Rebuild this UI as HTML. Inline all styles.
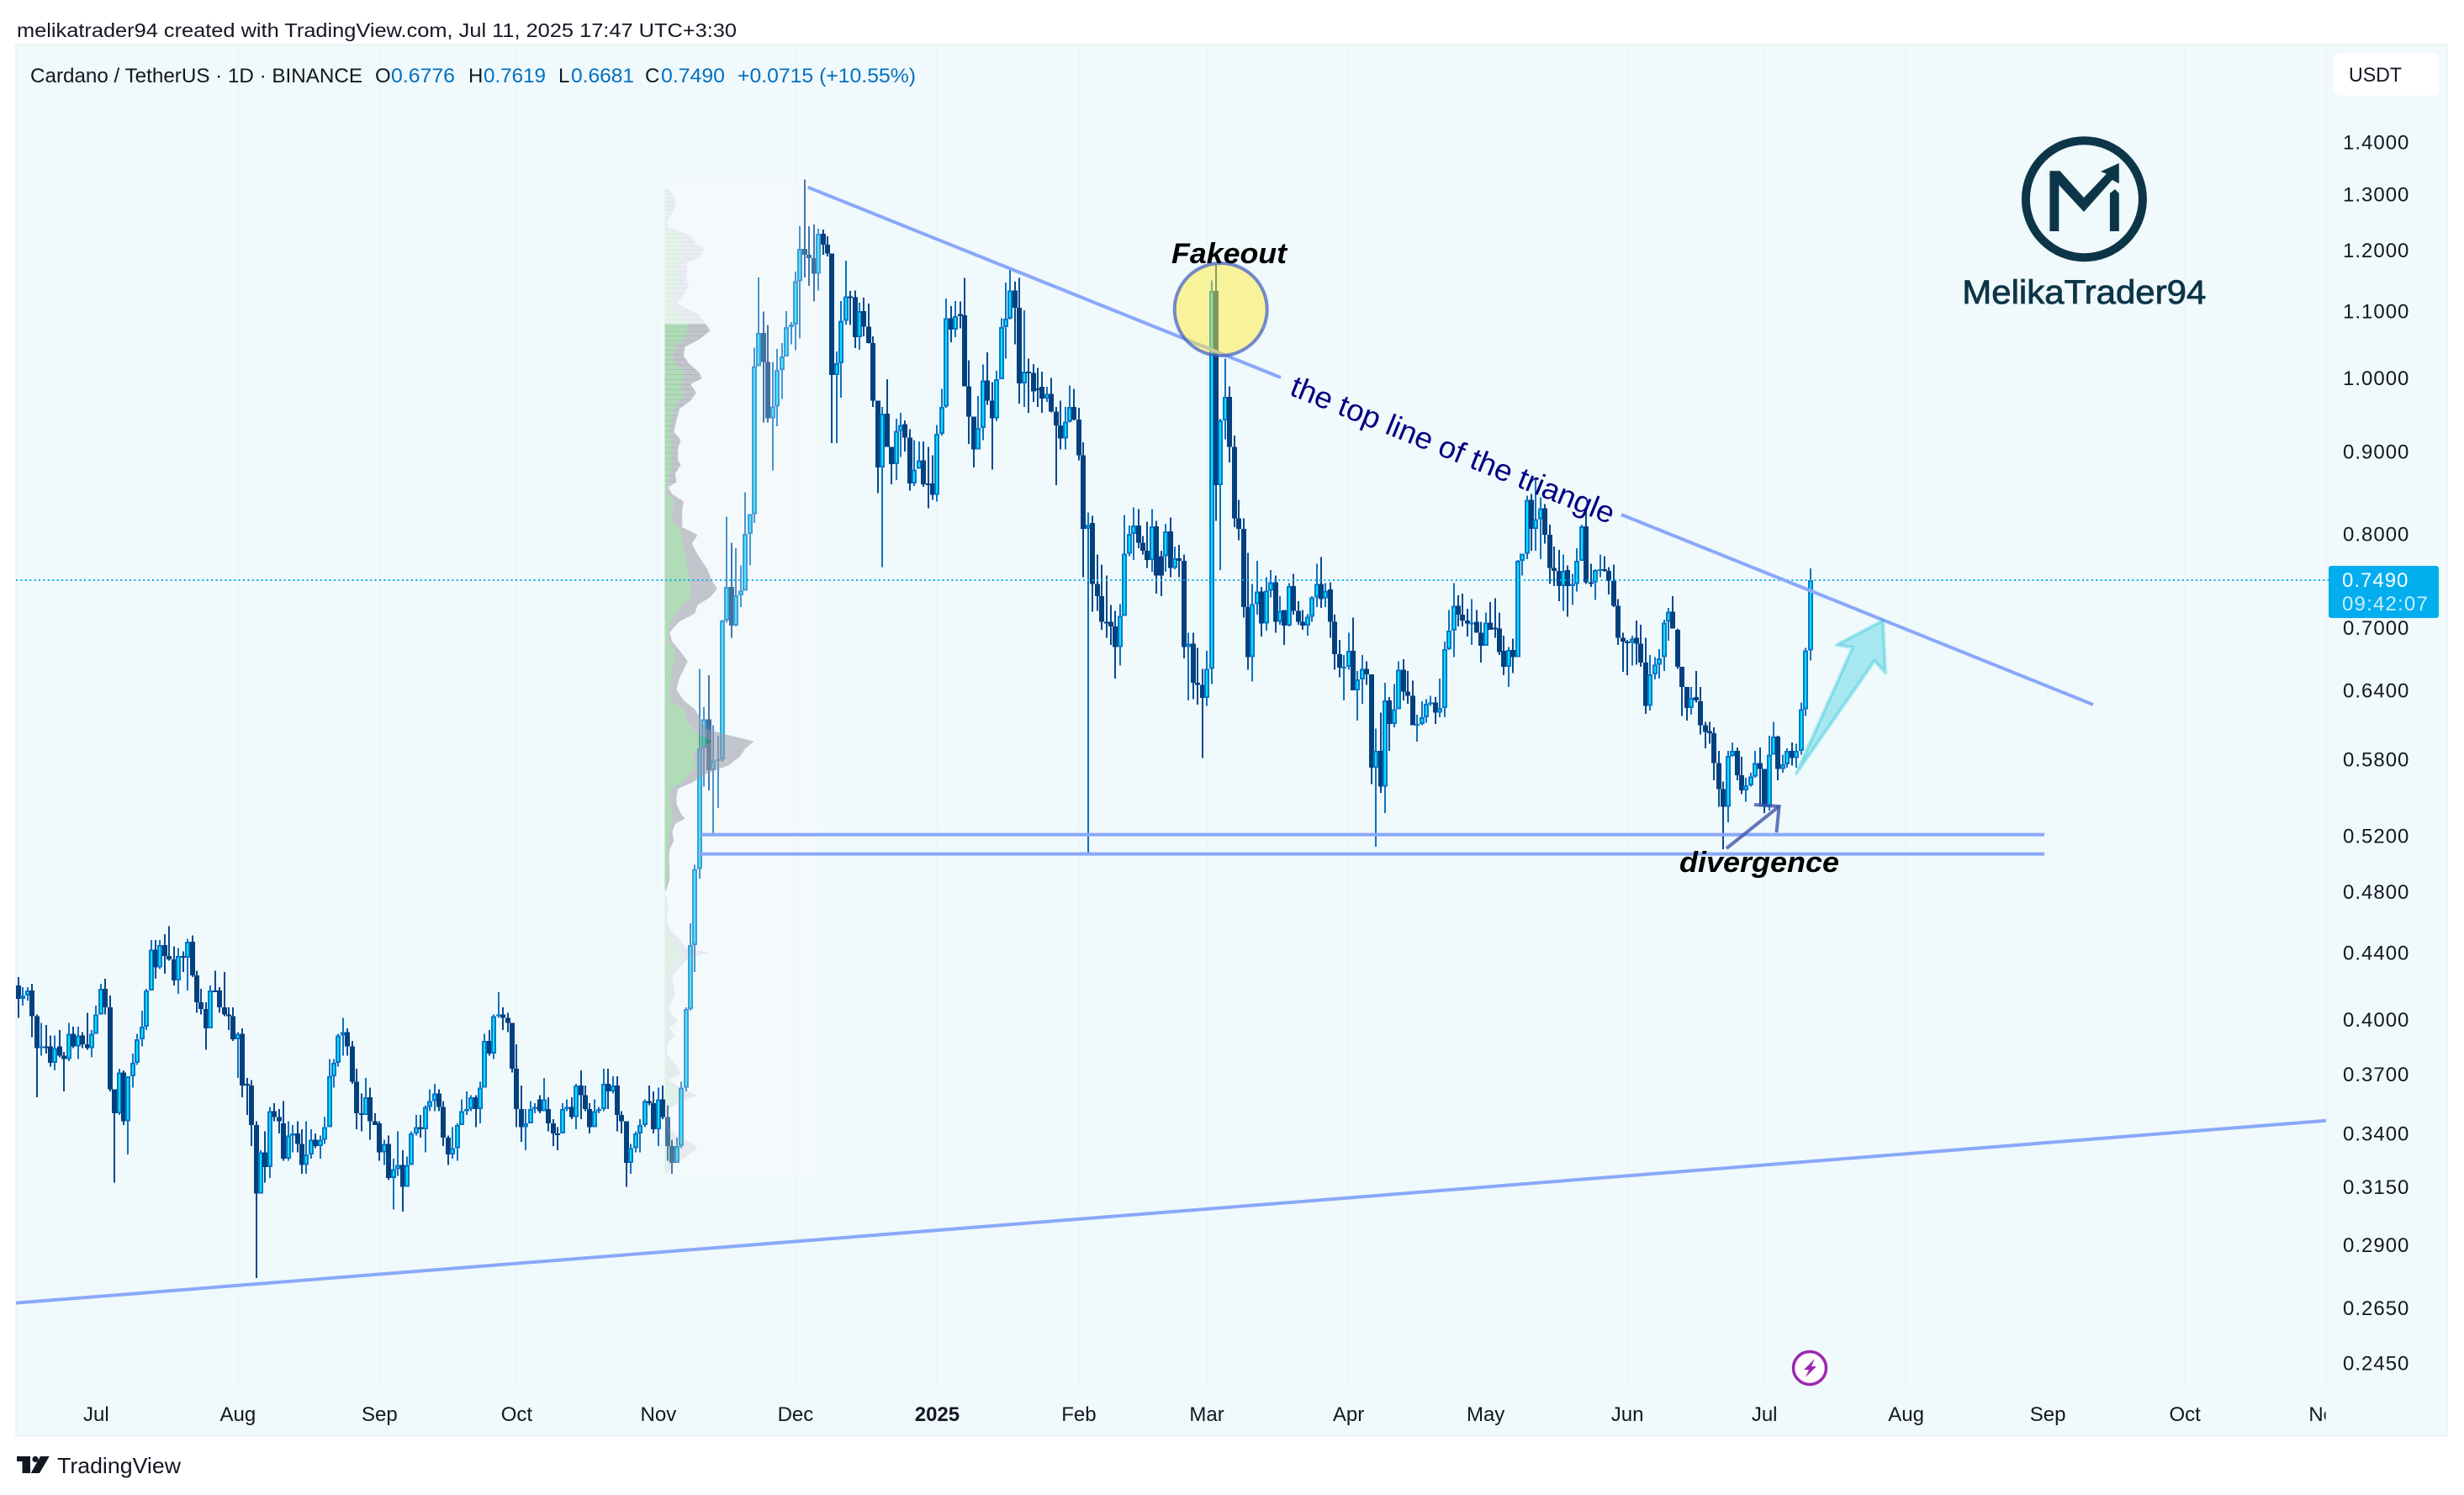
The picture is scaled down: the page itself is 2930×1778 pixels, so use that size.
<!DOCTYPE html>
<html lang="en">
<head>
<meta charset="utf-8">
<title>Cardano / TetherUS chart</title>
<style>
html,body{margin:0;padding:0;background:#fff;}
svg{display:block;font-family:"Liberation Sans",sans-serif;}
</style>
</head>
<body>
<svg id="chart" width="2930" height="1778" viewBox="0 0 2930 1778" xmlns="http://www.w3.org/2000/svg">
<defs>
  <clipPath id="paneClip"><rect x="19" y="53" width="2747" height="1655"/></clipPath>
  <clipPath id="timeClip"><rect x="19" y="1652" width="2746.5" height="56"/></clipPath>
</defs>
<rect x="0" y="0" width="2930" height="1778" fill="#ffffff"/>
<text x="20" y="44" font-size="23" fill="#131722" textLength="856" lengthAdjust="spacingAndGlyphs">melikatrader94 created with TradingView.com, Jul 11, 2025 17:47 UTC+3:30</text>
<rect x="19" y="53" width="2891" height="1654.5" fill="#f0f9fb" stroke="#eff1f3" stroke-width="2"/>
<g id="gridLayer"></g>
<g id="candleLayer" clip-path="url(#paneClip)"></g>
<rect x="791" y="213" width="185" height="1185" fill="#ffffff" fill-opacity="0.25"/>
<g id="profileLayer"></g>
<g id="priceLineLayer"></g>

<g clip-path="url(#paneClip)">
  <line x1="960.7" y1="222.7" x2="1523" y2="449" stroke="#89a8fb" stroke-width="4"/>
  <line x1="1928" y1="612" x2="2489" y2="838" stroke="#89a8fb" stroke-width="4"/>
  <line x1="834" y1="992.6" x2="2431" y2="992.6" stroke="#89a8fb" stroke-width="4"/>
  <line x1="830" y1="1015.6" x2="2431" y2="1015.6" stroke="#89a8fb" stroke-width="4"/>
  <line x1="19" y1="1549.6" x2="2766" y2="1332.8" stroke="#89a8fb" stroke-width="4"/>
  <circle cx="1451.7" cy="368" r="55" fill="#ffeb3b" fill-opacity="0.5" stroke="#3a5ac8" stroke-opacity="0.7" stroke-width="4"/>
  <polygon points="2136,920 2203,770 2184,767 2239,738 2242,800 2229,786" fill="#00bcd4" fill-opacity="0.3" stroke="#00bcd4" stroke-opacity="0.3" stroke-width="4" stroke-linejoin="round"/>
  <polyline points="2053,1009 2115.6,959" fill="none" stroke="#3f56a8" stroke-opacity="0.8" stroke-width="4"/>
  <polyline points="2086,957 2115.6,959 2112.5,990" fill="none" stroke="#3f56a8" stroke-opacity="0.8" stroke-width="4"/>
</g>

<text x="1393" y="313" font-size="34" font-weight="700" font-style="italic" fill="#000000" textLength="137" lengthAdjust="spacingAndGlyphs">Fakeout</text>
<text x="1997" y="1037" font-size="34" font-weight="700" font-style="italic" fill="#000000" textLength="190" lengthAdjust="spacingAndGlyphs">divergence</text>
<text transform="translate(1532 469) rotate(22)" font-size="36" fill="#000080" textLength="412" lengthAdjust="spacingAndGlyphs">the top line of the triangle</text>

<g>
  <circle cx="2478.4" cy="236.7" r="69.5" fill="none" stroke="#0d3548" stroke-width="10"/>
  <polygon fill="#0d3548" points="2437.4,275 2437.4,203.3 2449.5,203.3 2478,235 2504.9,206.7 2498,204 2519.8,194 2519.8,218.3 2511.7,214 2478,252 2448.3,220 2448.3,275"/>
  <polygon fill="#0d3548" points="2508.9,275 2508.9,230 2515,225 2519.8,230 2519.8,275"/>
  <text x="2333.3" y="361" font-size="40" fill="#0d3548" stroke="#0d3548" stroke-width="0.8" textLength="290" lengthAdjust="spacingAndGlyphs">MelikaTrader94</text>
</g>

<g font-size="24">
  <text x="36" y="98" fill="#131722" textLength="395" lengthAdjust="spacingAndGlyphs">Cardano / TetherUS · 1D · BINANCE</text>
  <text x="446" y="98" fill="#131722">O</text>
  <text x="465" y="98" fill="#0070c0" textLength="76" lengthAdjust="spacingAndGlyphs">0.6776</text>
  <text x="557" y="98" fill="#131722">H</text>
  <text x="575" y="98" fill="#0070c0" textLength="74" lengthAdjust="spacingAndGlyphs">0.7619</text>
  <text x="664" y="98" fill="#131722">L</text>
  <text x="679" y="98" fill="#0070c0" textLength="75" lengthAdjust="spacingAndGlyphs">0.6681</text>
  <text x="767" y="98" fill="#131722">C</text>
  <text x="786" y="98" fill="#0070c0" textLength="76" lengthAdjust="spacingAndGlyphs">0.7490</text>
  <text x="877" y="98" fill="#0070c0" textLength="212" lengthAdjust="spacingAndGlyphs">+0.0715 (+10.55%)</text>
</g>

<g>
  <rect x="2774" y="62" width="127" height="52" rx="7" fill="#ffffff" stroke="#f3f5f7" stroke-width="1"/>
  <text x="2793" y="97" font-size="24" fill="#131722" textLength="63" lengthAdjust="spacingAndGlyphs">USDT</text>
</g>

<g id="priceAxis"></g>
<g id="timeAxis"></g>

<g>
  <rect x="2769" y="673" width="131" height="62" rx="3" fill="#03aeef"/>
  <text x="2785" y="698" font-size="24" letter-spacing="1" fill="#ffffff">0.7490</text>
  <text x="2785" y="726" font-size="24" letter-spacing="1.2" fill="#c9edfb">09:42:07</text>
</g>

<g>
  <circle cx="2152" cy="1627" r="19.5" fill="#ffffff" stroke="#9c27b0" stroke-width="3.5"/>
  <polygon points="2158,1616 2145,1629 2151,1629 2147,1638 2160,1625 2154,1625" fill="#9c27b0"/>
</g>

<g>
  <polygon points="20,1732 36,1732 36,1752 26.5,1752 26.5,1738 20,1738" fill="#131722"/>
  <circle cx="42" cy="1735.5" r="3.6" fill="#131722"/>
  <polygon points="48,1732 58.7,1732 47,1752 36.7,1752" fill="#131722"/>
  <text x="68" y="1752" font-size="26" fill="#131722" textLength="147" lengthAdjust="spacingAndGlyphs">TradingView</text>
</g>

<script>
const opens = [
.420,.412,.414,.417,.402,.385,.385,.385,.376,.385,
.380,.378,.392,.385,.391,.386,.384,.392,.403,.418,
.407,.362,.350,.371,.346,.369,.376,.389,.396,.417,
.442,.431,.445,.438,.436,.423,.438,.437,.447,.426,
.410,.406,.395,.417,.417,.407,.403,.402,.389,.392,
.365,.364,.344,.312,.331,.324,.351,.348,.345,.328,
.339,.340,.335,.325,.330,.337,.334,.337,.343,.369,
.376,.391,.393,.385,.366,.350,.349,.358,.346,.345,
.331,.335,.319,.323,.325,.315,.325,.340,.343,.342,
.353,.356,.360,.353,.338,.330,.333,.344,.351,.352,
.358,.352,.363,.388,.381,.402,.403,.401,.398,.373,
.352,.343,.345,.352,.357,.351,.352,.345,.340,.340,
.352,.353,.348,.364,.359,.352,.343,.351,.352,.365,
.361,.364,.349,.346,.326,.333,.340,.344,.356,.355,
.342,.357,.348,.334,.326,.334,.363,.406,.445,.496,
.589,.614,.571,.579,.580,.707,.742,.702,.733,.738,
.800,.823,1.017,1.066,1.023,.944,.960,1.011,1.031,1.075,
1.079,1.148,1.202,1.192,1.186,1.160,1.228,1.209,1.194,1.004,
1.021,1.085,1.123,1.122,1.060,1.100,1.076,1.051,.968,.880,
.950,.906,.884,.927,.936,.918,.860,.878,.889,.860,
.860,.846,.923,.960,1.089,1.071,1.095,1.093,.988,.946,
.903,.931,.996,.968,.944,.998,1.075,1.088,1.133,1.105,
.992,1.009,1.007,.985,.987,.971,.977,.953,.934,.917,
.939,.959,.942,.895,.806,.813,.745,.732,.706,.706,
.701,.681,.712,.778,.800,.810,.790,.781,.771,.809,
.775,.775,.803,.762,.773,.770,.681,.684,.647,.645,
.633,.660,1.132,.858,.941,.973,.906,.818,.806,.721,
.671,.724,.737,.704,.738,.747,.706,.718,.702,.743,
.717,.706,.702,.711,.731,.745,.730,.739,.706,.674,
.661,.662,.677,.640,.650,.660,.655,.573,.587,.558,
.631,.610,.623,.659,.639,.635,.609,.610,.616,.628,
.629,.620,.624,.679,.697,.722,.713,.707,.704,.706,
.695,.682,.705,.700,.699,.677,.662,.678,.671,.770,
.778,.840,.806,.817,.830,.799,.762,.759,.743,.760,
.743,.745,.770,.809,.747,.747,.760,.761,.759,.748,
.722,.690,.686,.685,.690,.684,.666,.626,.655,.664,
.671,.706,.716,.698,.662,.643,.624,.634,.630,.609,
.604,.602,.577,.556,.542,.583,.587,.567,.555,.559,
.566,.577,.572,.542,.584,.599,.572,.576,.587,.581,
.587,.623,.6776];
const highs = [
.425,.419,.419,.421,.403,.398,.397,.391,.391,.394,
.382,.398,.396,.396,.393,.404,.394,.408,.421,.424,
.414,.362,.373,.372,.369,.381,.392,.405,.418,.448,
.448,.448,.452,.457,.444,.443,.441,.449,.451,.429,
.418,.410,.420,.429,.419,.428,.407,.407,.393,.395,
.368,.367,.346,.332,.341,.353,.355,.352,.356,.346,
.344,.346,.342,.346,.342,.340,.339,.348,.378,.378,
.392,.401,.395,.388,.373,.360,.368,.363,.350,.346,
.337,.339,.328,.341,.332,.329,.341,.349,.349,.354,
.362,.365,.362,.356,.339,.343,.345,.357,.361,.359,
.359,.366,.392,.394,.403,.416,.407,.404,.398,.386,
.364,.352,.356,.355,.359,.368,.358,.347,.343,.355,
.357,.358,.365,.372,.364,.355,.357,.353,.373,.373,
.369,.369,.351,.346,.335,.341,.347,.357,.364,.361,
.363,.364,.354,.337,.338,.366,.407,.459,.499,.660,
.625,.654,.609,.600,.708,.820,.790,.784,.765,.849,
.823,1.044,1.154,1.099,1.078,1.023,1.042,1.051,1.100,1.083,
1.164,1.242,1.327,1.242,1.245,1.237,1.236,1.224,1.194,1.038,
1.116,1.182,1.132,1.133,1.113,1.121,1.112,1.061,.968,.959,
.998,.906,.943,.951,.941,.929,.915,.913,.913,.906,
.895,.935,.984,1.120,1.108,1.116,1.115,1.153,1.025,.946,
.974,1.019,1.037,.994,1.010,1.089,1.146,1.167,1.147,1.153,
1.101,1.028,1.020,1.014,1.009,.987,1.000,.959,.968,.959,
.989,.984,.958,.912,.825,.821,.777,.766,.754,.723,
.717,.724,.822,.810,.831,.829,.798,.814,.829,.815,
.781,.812,.819,.786,.788,.777,.695,.695,.680,.660,
.677,1.149,1.175,.943,1.028,.988,.921,.840,.818,.779,
.745,.770,.742,.752,.760,.754,.732,.718,.746,.756,
.727,.718,.714,.732,.767,.774,.746,.747,.713,.688,
.673,.695,.710,.658,.673,.667,.655,.606,.620,.647,
.634,.646,.667,.669,.658,.649,.618,.630,.632,.635,
.634,.651,.686,.718,.746,.733,.735,.719,.729,.718,
.706,.715,.726,.730,.715,.692,.681,.689,.771,.778,
.845,.847,.865,.843,.835,.811,.786,.782,.777,.765,
.756,.784,.811,.827,.767,.761,.777,.775,.763,.766,
.729,.695,.688,.692,.707,.703,.690,.673,.671,.679,
.708,.720,.732,.699,.662,.643,.643,.658,.643,.612,
.612,.607,.587,.562,.587,.594,.590,.582,.565,.569,
.587,.590,.572,.600,.612,.600,.584,.589,.594,.593,
.629,.680,.7619];
const lows = [
.401,.408,.411,.390,.358,.380,.381,.374,.372,.379,
.361,.377,.384,.378,.384,.383,.379,.392,.403,.403,
.361,.317,.349,.344,.330,.363,.375,.385,.394,.417,
.424,.430,.427,.435,.420,.415,.428,.417,.425,.404,
.403,.383,.395,.417,.404,.402,.394,.388,.368,.358,
.349,.334,.2765,.312,.317,.319,.346,.340,.327,.327,
.331,.331,.321,.321,.328,.333,.328,.335,.343,.363,
.374,.380,.380,.365,.342,.341,.349,.337,.344,.327,
.325,.318,.305,.320,.304,.315,.325,.339,.338,.331,
.351,.351,.351,.334,.325,.328,.327,.344,.349,.351,
.343,.345,.363,.380,.378,.401,.394,.393,.371,.343,
.336,.332,.345,.350,.350,.351,.341,.334,.332,.340,
.351,.347,.342,.347,.351,.340,.343,.350,.351,.352,
.360,.341,.340,.315,.321,.331,.331,.343,.354,.340,
.334,.347,.327,.321,.326,.333,.361,.405,.428,.489,
.558,.555,.520,.541,.578,.705,.690,.701,.721,.738,
.765,.813,1.017,.938,.938,.876,.933,.970,1.032,1.049,
1.040,1.058,1.154,1.140,1.115,1.133,1.192,1.189,.911,.911,
.972,1.079,1.078,1.043,1.041,1.061,1.050,.959,.848,.763,
.906,.859,.864,.893,.900,.851,.857,.878,.856,.830,
.840,.838,.921,.958,1.052,1.060,1.073,.988,.910,.880,
.903,.915,.962,.877,.940,.998,1.028,1.087,1.049,.964,
.959,.951,.966,.959,.951,.966,.952,.858,.903,.903,
.938,.941,.889,.752,.507,.716,.717,.698,.690,.683,
.651,.663,.712,.775,.771,.784,.777,.762,.758,.735,
.732,.758,.752,.761,.752,.670,.631,.632,.627,.581,
.626,.646,.815,.760,.916,.886,.808,.793,.710,.659,
.648,.713,.691,.697,.731,.695,.703,.683,.701,.713,
.703,.698,.692,.706,.721,.720,.721,.690,.659,.652,
.631,.659,.640,.613,.628,.645,.560,.512,.553,.537,
.587,.607,.623,.631,.628,.609,.595,.609,.611,.626,
.610,.616,.616,.678,.671,.701,.701,.691,.683,.695,
.666,.682,.698,.690,.673,.654,.643,.656,.671,.754,
.772,.781,.781,.772,.789,.745,.743,.727,.717,.711,
.723,.737,.770,.745,.742,.728,.752,.758,.734,.721,
.683,.657,.654,.663,.664,.662,.619,.622,.650,.651,
.658,.687,.699,.660,.617,.613,.618,.629,.601,.589,
.593,.563,.542,.510,.530,.582,.563,.552,.546,.558,
.565,.542,.537,.539,.584,.563,.569,.573,.575,.573,
.584,.617,.6681];
const closes = [
.412,.414,.417,.402,.384,.385,.384,.376,.384,.380,
.378,.392,.385,.391,.386,.384,.392,.403,.418,.407,
.362,.350,.371,.346,.369,.376,.389,.396,.417,.442,
.431,.445,.438,.436,.423,.438,.437,.447,.426,.410,
.406,.395,.417,.416,.407,.403,.402,.389,.392,.364,
.364,.344,.312,.331,.324,.351,.348,.346,.328,.339,
.340,.335,.325,.330,.337,.334,.337,.343,.369,.376,
.391,.393,.385,.366,.350,.349,.358,.346,.344,.331,
.335,.319,.323,.325,.315,.325,.340,.343,.342,.353,
.356,.360,.353,.338,.330,.333,.344,.351,.352,.358,
.352,.363,.388,.381,.402,.403,.401,.398,.373,.352,
.343,.345,.352,.353,.351,.357,.345,.340,.3395,.352,
.353,.348,.364,.359,.352,.343,.351,.352,.365,.361,
.364,.349,.346,.326,.333,.340,.344,.356,.355,.342,
.357,.348,.334,.326,.334,.363,.406,.445,.496,.589,
.614,.571,.579,.580,.707,.742,.702,.733,.738,.800,
.823,1.017,1.066,1.023,.944,.960,1.011,1.031,1.075,1.079,
1.148,1.202,1.192,1.186,1.160,1.228,1.209,1.194,1.004,1.021,
1.085,1.123,1.122,1.060,1.100,1.076,1.051,.968,.880,.950,
.906,.884,.927,.935,.918,.860,.877,.889,.859,.859,
.846,.923,.959,1.089,1.071,1.092,1.092,.988,.946,.903,
.931,.996,.968,.944,.998,1.075,1.088,1.133,1.105,.992,
1.009,1.007,.981,.984,.971,.977,.953,.934,.917,.939,
.959,.942,.895,.806,.811,.745,.732,.706,.705,.701,
.681,.712,.778,.800,.810,.790,.781,.771,.809,.754,
.754,.803,.762,.773,.770,.681,.684,.647,.645,.633,
.660,1.132,.858,.941,.973,.906,.818,.806,.721,.671,
.724,.737,.704,.738,.747,.706,.717,.702,.743,.717,
.706,.702,.711,.731,.745,.729,.738,.706,.674,.661,
.662,.677,.640,.650,.660,.655,.573,.587,.558,.631,
.610,.623,.659,.639,.635,.609,.610,.616,.628,.629,
.620,.624,.679,.697,.722,.713,.707,.704,.705,.695,
.682,.705,.698,.699,.676,.662,.678,.671,.770,.778,
.840,.806,.817,.830,.799,.762,.759,.743,.759,.743,
.745,.770,.809,.747,.746,.760,.761,.759,.748,.722,
.690,.686,.685,.689,.684,.666,.626,.655,.664,.670,
.705,.716,.699,.662,.643,.624,.633,.631,.609,.603,
.602,.577,.556,.542,.583,.587,.567,.555,.559,.566,
.577,.572,.542,.584,.599,.572,.576,.587,.581,.587,
.623,.6776,.7490];

const priceTicks = [1.4,1.3,1.2,1.1,1.0,0.9,0.8,0.7,0.64,0.58,0.52,0.48,0.44,0.40,0.37,0.34,0.315,0.29,0.265,0.245];
const priceTickLabels = ["1.4000","1.3000","1.2000","1.1000","1.0000","0.9000","0.8000","0.7000","0.6400","0.5800","0.5200","0.4800","0.4400","0.4000","0.3700","0.3400","0.3150","0.2900","0.2650","0.2450"];
const timeTickBars = [17,48,79,109,140,170,201,232,260,291,321,352,382,413,444,474,505];
const timeTickLabels = ["Jul","Aug","Sep","Oct","Nov","Dec","2025","Feb","Mar","Apr","May","Jun","Jul","Aug","Sep","Oct","Nov"];
const lastPrice = 0.7490;

const vpPrices = [1.312,1.297,1.281,1.266,1.251,1.240,1.230,1.221,1.211,1.201,1.187,1.178,1.164,1.150,1.140,1.126,1.113,1.104,1.096,1.083,1.070,1.057,1.045,1.032,1.020,1.008,.999,.991,.979,.968,.956,.941,.926,.915,.904,.889,.883,.872,.862,.855,.847,.838,.828,.818,.808,.799,.789,.780,.770,.761,.749,.740,.731,.723,.714,.706,.695,.686,.678,.667,.659,.651,.641,.631,.623,.613,.606,.601,.595,.589,.582,.575,.568,.561,.556,.550,.544,.537,.533,.529,.523,.516,.510,.502,.494,.488,.482,.480,.471,.462,.460,.454,.449,.443,.440,.437,.431,.425,.414,.406,.399,.395,.391,.387,.381,.375,.370,.367,.363,.359,.356,.352,.343,.339,.335,.333,.330,.326,.321];
const vpTotal = [1,10.7,13,9,3,4,24,34,37,47,42,25.7,27,25.7,29,22.3,14,25.7,39,47,54,42,24,22.3,29,40.7,44,30.7,37.3,30.7,17.3,14,10.7,19,15.7,15.7,19,12.3,14,4,9,22.3,20.7,20.7,20.7,39,32.3,37.3,44,50.7,55.7,62.3,54,39,35.7,17.3,5.7,9,17.3,27.3,22.3,17.3,14,22.3,35.7,44,49,72.3,106,95.7,89,75.7,49,32.3,15.7,14,14,19,24,12.3,9,10.7,5.7,5,5.7,5.7,2.3,1,4,2.3,2.3,7.3,17.3,25.7,52.3,29,17.3,9,12.3,4,15,5.7,12.3,4,1.7,14,19,4,17.3,39,19,5.7,4,14,34,39,29,14,2.3];
const vpUp = [1,4,4,3.3,1.7,2.3,12.3,17.3,22.3,24,19,15.7,12.3,15.7,14,12.3,10.7,12.3,14,25.7,27.3,22.3,12.3,9,12.3,22.3,22.3,17.3,22.3,17.3,10.7,7.3,5.7,7.3,7.3,7.3,9,5.7,4,2.3,2.3,12.3,9,7.3,15.7,20.7,20.7,24,25.7,27.3,30.7,30.7,30.7,20.7,14,5.7,4,4,10.7,12.3,7.3,7.3,5.7,5.7,22.3,25.7,34,39,57.3,39,32.3,37.3,29,20.7,5.7,5.7,5.7,9,9,7.3,5.7,4,4,4,4,3,1.7,1,2.3,1.7,1.7,4,9,14,22.3,19,9,4,4,1.7,5.7,2.3,4,1.7,1,5.7,5.7,1.7,9,17.3,9,2.3,1,4,12.3,17.3,9,4,1];
const vpValueAreaHigh = 1.080;
const vpValueAreaLow = 0.481;

const SVG_NS = 'http://www.w3.org/2000/svg';
function priceY(p) { return 449.3 - 833 * Math.log(p); }
function barX(i) { return 22 + 5.435 * i; }
function vpX(v) { return 790.5 + v; }
function make(tag, attrs) {
  const el = document.createElementNS(SVG_NS, tag);
  for (const k in attrs) el.setAttribute(k, attrs[k]);
  return el;
}

const gridLayer = document.getElementById('gridLayer');
timeTickBars.forEach(function (bar) {
  const el = make('line', {x1: barX(bar), x2: barX(bar), y1: 54, y2: 1652, stroke: '#ebf4f6', 'stroke-width': 1.5});
  
  
  gridLayer.appendChild(el);
});

const candleLayer = document.getElementById('candleLayer');
opens.forEach(function (open, i) {
  const close = closes[i];
  const up = close >= open;
  const cx = Math.round(barX(i));
  const top = priceY(Math.max(open, close));
  const bottom = priceY(Math.min(open, close));
  const g = make('g', {});
  
  
  const wick = make('rect', {x: cx - 1, y: priceY(highs[i]), width: 2, height: Math.max(1, priceY(lows[i]) - priceY(highs[i])), fill: up ? '#0a72c2' : '#054a8e', 'shape-rendering': 'crispEdges'});
  
  
  g.appendChild(wick);
  const body = make('rect', {x: cx - 3, y: top, width: 6, height: Math.max(2, bottom - top), fill: up ? '#0a78c8' : '#03407f', 'shape-rendering': 'crispEdges'});
  
  
  g.appendChild(body);
  if (up && bottom - top > 3.5) {
    const core = make('rect', {x: cx - 1, y: top + 2, width: 2, height: bottom - top - 4, fill: '#00e5ff', 'shape-rendering': 'crispEdges'});
    
    
    g.appendChild(core);
  }
  candleLayer.appendChild(g);
});

const profileLayer = document.getElementById('profileLayer');
const defs = document.querySelector('defs');
const vaTop = priceY(vpValueAreaHigh);
const vaBottom = priceY(vpValueAreaLow);
const vaClip = make('clipPath', {id: 'vaClip'});
vaClip.appendChild(make('rect', {x: 780, y: vaTop, width: 300, height: vaBottom - vaTop}));
defs.appendChild(vaClip);
const outClip = make('clipPath', {id: 'outClip'});
outClip.appendChild(make('rect', {x: 780, y: 200, width: 300, height: vaTop - 200}));
outClip.appendChild(make('rect', {x: 780, y: vaBottom, width: 300, height: 1420 - vaBottom}));
defs.appendChild(outClip);

const totalEdge = vpPrices.map(function (p, k) { return vpX(vpTotal[k]) + ',' + priceY(p); });
const upEdge = vpPrices.map(function (p, k) { return vpX(vpUp[k]) + ',' + priceY(p); });
const baseTop = vpX(0) + ',' + priceY(vpPrices[0]);
const baseBottom = vpX(0) + ',' + priceY(vpPrices[vpPrices.length - 1]);
const outlineClip = make('clipPath', {id: 'outlineClip'});
outlineClip.appendChild(make('polygon', {points: [baseTop].concat(totalEdge, [baseBottom]).join(' ')}));
defs.appendChild(outlineClip);

function drawProfile(clipId, opacity) {
  const g = make('g', {'clip-path': 'url(#' + clipId + ')', opacity: opacity});
  
  
  const grey = make('polygon', {points: totalEdge.concat(upEdge.slice().reverse()).join(' '), fill: 'rgb(155,153,166)', 'fill-opacity': 0.55});
  
  
  g.appendChild(grey);
  const green = make('polygon', {points: [baseTop].concat(upEdge, [baseBottom]).join(' '), fill: 'rgb(76,175,80)', 'fill-opacity': 0.4});
  
  
  g.appendChild(green);
  profileLayer.appendChild(g);
}
drawProfile('outClip', 0.3);
drawProfile('vaClip', 1);

const stripes = make('g', {'clip-path': 'url(#outlineClip)'});


const vpRowStep = 0.0071;
for (let p = 1.31; p > 0.86; p -= vpRowStep) {
  const inVa = p < vpValueAreaHigh;
  const row = make('line', {x1: 790, x2: 905, y1: priceY(p), y2: priceY(p), stroke: inVa ? 'rgb(60,130,80)' : '#ffffff', 'stroke-opacity': inVa ? 0.16 : 0.4, 'stroke-width': 1});
  
  
  stripes.appendChild(row);
}
profileLayer.appendChild(stripes);

const priceLineLayer = document.getElementById('priceLineLayer');
const priceLine = make('line', {x1: 19, x2: 2769, y1: priceY(lastPrice), y2: priceY(lastPrice), stroke: '#03aeef', 'stroke-width': 2, 'stroke-dasharray': '2 3.4'});


priceLineLayer.appendChild(priceLine);

const priceAxis = document.getElementById('priceAxis');
priceTicks.forEach(function (p, i) {
  const el = make('text', {x: 2786, y: priceY(p) + 8.5, 'font-size': 24, 'letter-spacing': 1, fill: '#131722'});
  
  
  el.textContent = priceTickLabels[i];
  priceAxis.appendChild(el);
});

const timeAxis = document.getElementById('timeAxis');
timeAxis.setAttribute('clip-path', 'url(#timeClip)');
timeTickBars.forEach(function (bar, i) {
  const label = timeTickLabels[i];
  const el = make('text', {x: barX(bar), y: 1690, 'font-size': 24, 'text-anchor': 'middle', fill: '#131722', 'font-weight': label === '2025' ? 700 : 400});
  
  
  el.textContent = label;
  timeAxis.appendChild(el);
});
</script>
</svg>
</body>
</html>
